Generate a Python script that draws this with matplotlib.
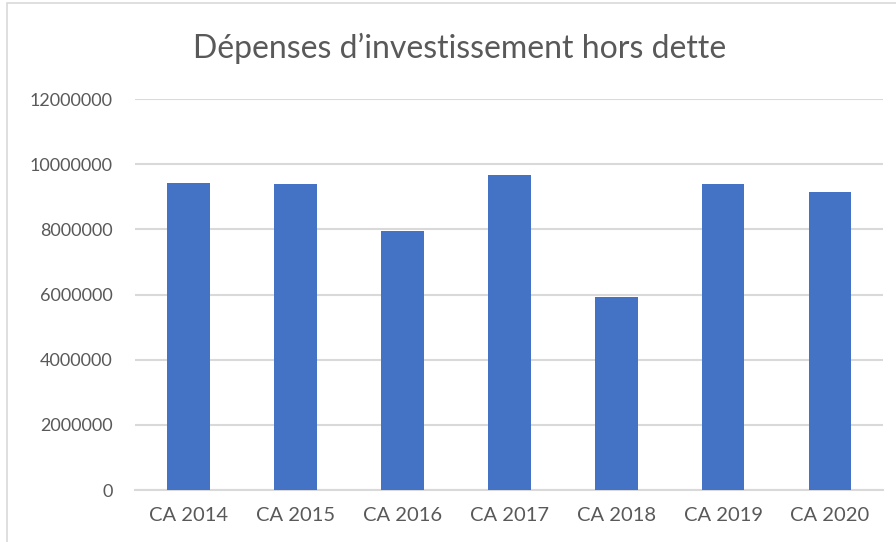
import matplotlib
matplotlib.use("Agg")
import matplotlib.pyplot as plt
from matplotlib.patches import Rectangle

categories = ["CA 2014", "CA 2015", "CA 2016", "CA 2017", "CA 2018", "CA 2019", "CA 2020"]
values = [9430000, 9390000, 7960000, 9680000, 5930000, 9390000, 9140000]
yticks = [0, 2000000, 4000000, 6000000, 8000000, 10000000, 12000000]
title = "Dépenses d’investissement hors dette"

plt.rcParams['font.family'] = ['Lato', 'DejaVu Sans']
text_color = "#595959"

fig = plt.figure(figsize=(8.96, 5.42), dpi=100)
ax = fig.add_axes([0.1507, 0.0959, 0.8353, 0.7214])

x = list(range(len(categories)))
ax.bar(x, values, width=0.4, color="#4472C4", zorder=3)
ax.set_xlim(-0.5, len(categories) - 0.5)
ax.set_ylim(0, 12000000)
ax.set_yticks(yticks)
ax.set_yticklabels([str(v) for v in yticks], fontsize=13, color=text_color)
ax.set_xticks(x)
ax.set_xticklabels(categories, fontsize=14.5, color=text_color)
ax.tick_params(axis='both', length=0)
ax.tick_params(axis='y', pad=16)
ax.tick_params(axis='x', pad=12)
ax.grid(axis='y', color="#D9D9D9", linewidth=1.5, zorder=0)
for s in ["top", "right", "left"]:
    ax.spines[s].set_visible(False)
ax.spines["bottom"].set_color("#D9D9D9")
ax.spines["bottom"].set_linewidth(1.5)

fig.text(0.513, 0.91, title, ha='center', va='center', fontsize=23, color=text_color)

border = Rectangle((7 / 896, -0.05), 1.2, 1.05 - 3 / 542, transform=fig.transFigure,
                   fill=False, edgecolor="#D9D9D9", linewidth=1.2)
fig.patches.append(border)

fig.savefig("out.png", dpi=100)
